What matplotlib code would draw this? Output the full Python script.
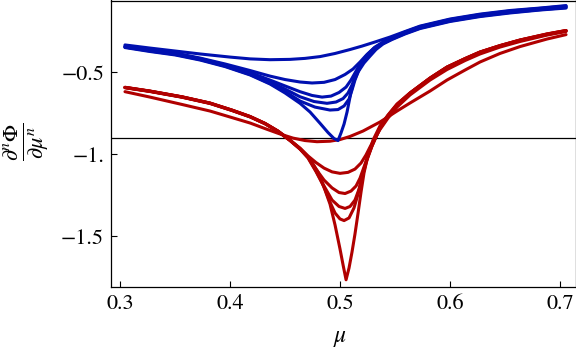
import matplotlib
matplotlib.use("Agg")
import matplotlib.pyplot as plt

plt.rcParams['font.family'] = ['STIXGeneral', 'DejaVu Serif']
plt.rcParams['mathtext.fontset'] = 'stix'

# blue family (mu values and derivative values)
blue_a_x = [0.3045, 0.3272, 0.3500, 0.3727, 0.3999, 0.4181, 0.4362, 0.4544, 0.4680, 0.4817, 0.4953, 0.5089, 0.5198, 0.5316, 0.5452, 0.5589, 0.5725, 0.5997, 0.6270, 0.6542, 0.6815, 0.7051]
blue_a_y = [-0.333, -0.352, -0.370, -0.388, -0.407, -0.418, -0.423, -0.421, -0.415, -0.404, -0.385, -0.361, -0.340, -0.315, -0.285, -0.251, -0.218, -0.175, -0.145, -0.123, -0.108, -0.093]

blue_b_x = [0.3045, 0.3272, 0.3500, 0.3727, 0.3954, 0.4181, 0.4362, 0.4499, 0.4635, 0.4744, 0.4853, 0.4953, 0.5044, 0.5116, 0.5180, 0.5243, 0.5316, 0.5389, 0.5470, 0.5589, 0.5725, 0.5997, 0.6270, 0.6542, 0.6815, 0.7051]
blue_b_y = [-0.340, -0.361, -0.382, -0.413, -0.449, -0.489, -0.523, -0.544, -0.559, -0.565, -0.561, -0.544, -0.513, -0.480, -0.437, -0.391, -0.346, -0.315, -0.288, -0.254, -0.221, -0.178, -0.148, -0.126, -0.110, -0.096]

blue_c_x = [0.3045, 0.3272, 0.3500, 0.3727, 0.3954, 0.4181, 0.4362, 0.4499, 0.4635, 0.4744, 0.4835, 0.4916, 0.4989, 0.5053, 0.5098, 0.5134, 0.5180, 0.5234, 0.5307, 0.5389, 0.5470, 0.5589, 0.5725, 0.5997, 0.6270, 0.6542, 0.6815, 0.7051]
blue_c_y = [-0.343, -0.364, -0.385, -0.416, -0.455, -0.501, -0.547, -0.583, -0.618, -0.641, -0.651, -0.645, -0.623, -0.590, -0.547, -0.504, -0.449, -0.401, -0.352, -0.318, -0.291, -0.257, -0.224, -0.181, -0.151, -0.129, -0.113, -0.099]

blue_d_x = [0.3045, 0.3272, 0.3500, 0.3727, 0.3954, 0.4181, 0.4362, 0.4499, 0.4635, 0.4762, 0.4880, 0.4962, 0.5026, 0.5071, 0.5107, 0.5134, 0.5180, 0.5234, 0.5307, 0.5389, 0.5470, 0.5589, 0.5725, 0.5997, 0.6270, 0.6542, 0.6815, 0.7051]
blue_d_y = [-0.346, -0.367, -0.388, -0.419, -0.459, -0.507, -0.559, -0.602, -0.649, -0.678, -0.689, -0.681, -0.660, -0.626, -0.577, -0.529, -0.462, -0.407, -0.355, -0.321, -0.294, -0.260, -0.227, -0.184, -0.154, -0.132, -0.115, -0.102]

blue_e_x = [0.3045, 0.3272, 0.3500, 0.3727, 0.3954, 0.4181, 0.4362, 0.4499, 0.4635, 0.4771, 0.4907, 0.4980, 0.5035, 0.5080, 0.5107, 0.5134, 0.5180, 0.5234, 0.5307, 0.5389, 0.5470, 0.5589, 0.5725, 0.5997, 0.6270, 0.6542, 0.6815, 0.7051]
blue_e_y = [-0.346, -0.370, -0.391, -0.422, -0.462, -0.513, -0.568, -0.617, -0.675, -0.712, -0.730, -0.727, -0.705, -0.663, -0.608, -0.547, -0.468, -0.410, -0.358, -0.324, -0.297, -0.263, -0.230, -0.187, -0.157, -0.135, -0.118, -0.105]

blue_f_x = [0.3045, 0.3272, 0.3500, 0.3727, 0.3954, 0.4181, 0.4362, 0.4499, 0.4635, 0.4726, 0.4817, 0.4889, 0.4944, 0.4980, 0.5007, 0.5035, 0.5062, 0.5080, 0.5098, 0.5125, 0.5162, 0.5216, 0.5271, 0.5325, 0.5389, 0.5470, 0.5589, 0.5725, 0.5997, 0.6270, 0.6542, 0.6815, 0.7051]
blue_f_y = [-0.349, -0.373, -0.394, -0.425, -0.465, -0.516, -0.571, -0.626, -0.689, -0.742, -0.811, -0.867, -0.904, -0.916, -0.870, -0.815, -0.742, -0.681, -0.620, -0.553, -0.498, -0.443, -0.401, -0.361, -0.327, -0.300, -0.266, -0.233, -0.190, -0.160, -0.138, -0.120, -0.108]

# red family
red_1_x = [0.3045, 0.3272, 0.3563, 0.3817, 0.4017, 0.4181, 0.4317, 0.4453, 0.4571, 0.4680, 0.4789, 0.4907, 0.4998, 0.5089, 0.5207, 0.5361, 0.5516, 0.5634, 0.5816, 0.5970, 0.6134, 0.6270, 0.6451, 0.6633, 0.6878, 0.7051]
red_1_y = [-0.618, -0.651, -0.696, -0.736, -0.776, -0.809, -0.843, -0.876, -0.901, -0.916, -0.923, -0.920, -0.910, -0.891, -0.858, -0.803, -0.736, -0.687, -0.614, -0.547, -0.486, -0.437, -0.385, -0.343, -0.297, -0.270]

red_2_x = [0.3045, 0.3272, 0.3563, 0.3817, 0.4017, 0.4181, 0.4317, 0.4435, 0.4544, 0.4635, 0.4708, 0.4780, 0.4853, 0.4926, 0.4998, 0.5071, 0.5134, 0.5189, 0.5234, 0.5271, 0.5316, 0.5361, 0.5434, 0.5516, 0.5634, 0.5816, 0.5970, 0.6134, 0.6270, 0.6451, 0.6633, 0.6878, 0.7051]
red_2_y = [-0.591, -0.614, -0.649, -0.687, -0.730, -0.769, -0.811, -0.858, -0.913, -0.962, -1.010, -1.050, -1.084, -1.107, -1.116, -1.110, -1.090, -1.053, -1.004, -0.955, -0.901, -0.849, -0.779, -0.712, -0.638, -0.547, -0.483, -0.428, -0.388, -0.346, -0.312, -0.273, -0.251]

red_3_x = [0.3045, 0.3272, 0.3563, 0.3817, 0.4017, 0.4181, 0.4317, 0.4435, 0.4544, 0.4635, 0.4708, 0.4780, 0.4853, 0.4926, 0.4989, 0.5044, 0.5098, 0.5144, 0.5180, 0.5216, 0.5252, 0.5298, 0.5361, 0.5434, 0.5516, 0.5634, 0.5816, 0.5970, 0.6134, 0.6270, 0.6451, 0.6633, 0.6878, 0.7051]
red_3_y = [-0.592, -0.615, -0.650, -0.688, -0.731, -0.770, -0.812, -0.859, -0.914, -0.965, -1.016, -1.090, -1.157, -1.205, -1.233, -1.239, -1.224, -1.193, -1.145, -1.077, -1.010, -0.931, -0.843, -0.769, -0.702, -0.629, -0.538, -0.471, -0.419, -0.379, -0.340, -0.306, -0.270, -0.248]

red_4_x = [0.3045, 0.3272, 0.3563, 0.3817, 0.4017, 0.4181, 0.4317, 0.4435, 0.4544, 0.4635, 0.4708, 0.4780, 0.4853, 0.4926, 0.4989, 0.5044, 0.5089, 0.5134, 0.5171, 0.5207, 0.5243, 0.5289, 0.5361, 0.5434, 0.5516, 0.5634, 0.5816, 0.5970, 0.6134, 0.6270, 0.6451, 0.6633, 0.6878, 0.7051]
red_4_y = [-0.592, -0.615, -0.650, -0.688, -0.731, -0.770, -0.812, -0.859, -0.914, -0.966, -1.019, -1.102, -1.193, -1.279, -1.318, -1.330, -1.318, -1.279, -1.212, -1.120, -1.035, -0.949, -0.840, -0.766, -0.699, -0.626, -0.535, -0.468, -0.417, -0.377, -0.338, -0.304, -0.268, -0.246]

red_5_x = [0.3045, 0.3272, 0.3563, 0.3817, 0.4017, 0.4181, 0.4317, 0.4435, 0.4544, 0.4635, 0.4708, 0.4780, 0.4853, 0.4907, 0.4953, 0.4998, 0.5035, 0.5080, 0.5125, 0.5162, 0.5198, 0.5234, 0.5280, 0.5361, 0.5434, 0.5516, 0.5634, 0.5816, 0.5970, 0.6134, 0.6270, 0.6451, 0.6633, 0.6878, 0.7051]
red_5_y = [-0.593, -0.616, -0.651, -0.689, -0.732, -0.771, -0.813, -0.860, -0.915, -0.968, -1.023, -1.105, -1.199, -1.291, -1.358, -1.394, -1.404, -1.388, -1.327, -1.242, -1.138, -1.047, -0.962, -0.836, -0.763, -0.696, -0.626, -0.535, -0.468, -0.416, -0.376, -0.337, -0.303, -0.266, -0.245]

red_6_x = [0.3045, 0.3272, 0.3563, 0.3817, 0.4017, 0.4181, 0.4317, 0.4435, 0.4544, 0.4635, 0.4726, 0.4798, 0.4862, 0.4907, 0.4953, 0.4998, 0.5026, 0.5053, 0.5080, 0.5107, 0.5134, 0.5162, 0.5189, 0.5216, 0.5252, 0.5298, 0.5361, 0.5434, 0.5516, 0.5634, 0.5816, 0.5970, 0.6134, 0.6270, 0.6451, 0.6633, 0.6878, 0.7051]
red_6_y = [-0.594, -0.617, -0.652, -0.690, -0.733, -0.772, -0.814, -0.861, -0.916, -0.968, -1.029, -1.108, -1.218, -1.303, -1.431, -1.577, -1.675, -1.765, -1.693, -1.596, -1.486, -1.358, -1.230, -1.114, -1.004, -0.913, -0.827, -0.760, -0.693, -0.626, -0.535, -0.468, -0.416, -0.376, -0.337, -0.303, -0.266, -0.245]

x_ticks = [0.3, 0.4, 0.5, 0.6, 0.7]
x_tick_labels = ['0.3', '0.4', '0.5', '0.6', '0.7']
y_ticks = [-0.5, -1.0, -1.5]
y_tick_labels = ['\u22120.5', '\u22121.', '\u22121.5']

blue = '#0010b0'
red = '#b00000'

fig = plt.figure(figsize=(5.76, 3.51), dpi=100)
ax = fig.add_axes([111 / 576, 1 - 287 / 351, 464.5 / 576, 286.5 / 351])

# x axis of the plot sits at -0.9
ax.axhline(-0.9, color='black', linewidth=0.9, zorder=1)

red_curves = [(red_1_x, red_1_y), (red_2_x, red_2_y), (red_3_x, red_3_y),
              (red_4_x, red_4_y), (red_5_x, red_5_y), (red_6_x, red_6_y)]
blue_curves = [(blue_a_x, blue_a_y), (blue_b_x, blue_b_y), (blue_c_x, blue_c_y),
               (blue_d_x, blue_d_y), (blue_e_x, blue_e_y), (blue_f_x, blue_f_y)]

for xs, ys in red_curves:
    ax.plot(xs, ys, color=red, linewidth=2.2, solid_joinstyle='round',
            solid_capstyle='round', zorder=2)
for xs, ys in blue_curves:
    ax.plot(xs, ys, color=blue, linewidth=2.2, solid_joinstyle='round',
            solid_capstyle='round', zorder=3)

ax.set_xlim(0.2918, 0.7137)
ax.set_ylim(-1.809, -0.062)

ax.set_xticks(x_ticks)
ax.set_xticklabels(x_tick_labels)
ax.set_yticks(y_ticks)
ax.set_yticklabels(y_tick_labels)
ax.tick_params(direction='in', length=4, width=0.8, labelsize=16, pad=5,
               top=False, right=False)
for sp in ax.spines.values():
    sp.set_linewidth(0.9)

fig.text(340 / 576, 1 - 338 / 351, r'$\mu$', fontsize=17, ha='center', va='center')
fig.text(26 / 576, 1 - 142 / 351, r'$\frac{\partial^n \Phi}{\partial \mu^n}$',
         fontsize=23, rotation=90, ha='center', va='center')

fig.savefig('out.png', dpi=100)
